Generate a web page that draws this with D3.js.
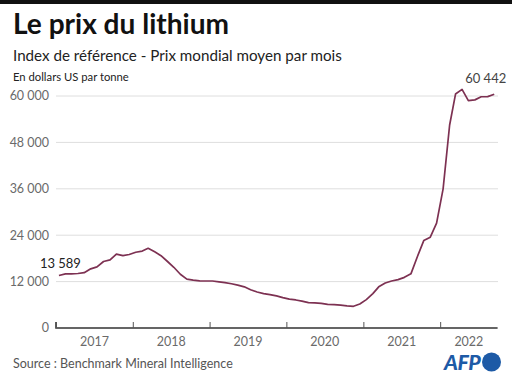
<!DOCTYPE html>
<html><head><meta charset="utf-8">
<script src="https://cdn.jsdelivr.net/npm/d3@7"></script>
<style>
html,body{margin:0;padding:0;background:#fff;}
svg{display:block;}
text{font-family:Lato,"Noto Sans",sans-serif;}
</style></head>
<body>
<script>
// ---- data ----
const startMonth = "2017-01";
const prices = [
  13589, 14000, 14000, 14100, 14300, 15300, 15800, 17200, 17600, 19100, 18700, 19000,
  19600, 19900, 20600, 19700, 18700, 17200, 15700, 13900, 12650, 12400, 12200, 12150,
  12150, 11950, 11750, 11450, 11100, 10650, 9900, 9300, 8900, 8650, 8300, 7850,
  7450, 7250, 6950, 6550, 6480, 6380, 6100, 6050, 5900, 5700, 5610, 6200,
  7350, 8900, 10650, 11650, 12150, 12500, 13100, 14000, 18500, 22600, 23500, 27100,
  36000, 52500, 60500, 61700, 58800, 59000, 59800, 59850, 60442
];
const yTicks = [0, 12000, 24000, 36000, 48000, 60000];
const yearLabels = ["2017", "2018", "2019", "2020", "2021", "2022"];
const title = "Le prix du lithium";
const subtitle = "Index de référence - Prix mondial moyen par mois";
const unit = "En dollars US par tonne";
const source = "Source : Benchmark Mineral Intelligence";

// ---- layout ----
const W = 512, H = 381;
const svg = d3.select("body").append("svg").attr("width", W).attr("height", H);
const fmt = v => d3.format(",")(v).replace(/,/g, "\u202F");

const parse = d3.timeParse("%Y-%m");
const t0 = parse(startMonth);
const dates = prices.map((_, i) => d3.timeDay.offset(d3.timeMonth.offset(t0, i), 14));
const data = prices.map((v, i) => ({date: dates[i], value: v}));
const domEnd = d3.timeMonth.offset(t0, prices.length); // Oct 2022

const x = d3.scaleTime().domain([t0, domEnd]).range([56, 497.6]);
const y = d3.scaleLinear().domain([0, 60000]).range([328, 96]);

// top bar
svg.append("rect").attr("x", 0).attr("y", 0).attr("width", W).attr("height", 4).attr("fill", "#111");

function fitText(sel, target) {
  const n = sel.node();
  const w = n.getComputedTextLength();
  const fs = parseFloat(sel.attr("font-size"));
  sel.attr("font-size", (fs * target / w).toFixed(2));
}
const tt = svg.append("text").attr("x", 13).attr("y", 34).attr("font-size", 26)
  .attr("font-weight", 700).attr("fill", "#111").text(title);
fitText(tt, 216);
const st = svg.append("text").attr("x", 13).attr("y", 61).attr("font-size", 17)
  .attr("fill", "#222").text(subtitle);
fitText(st, 329);
const ut = svg.append("text").attr("x", 13).attr("y", 81).attr("font-size", 13)
  .attr("fill", "#222").text(unit);
fitText(ut, 116);

// grid
const g = svg.append("g");
g.selectAll("line.grid").data(yTicks.filter(d => d > 0)).join("line")
  .attr("class", "grid")
  .attr("x1", 56).attr("x2", 498)
  .attr("y1", d => y(d)).attr("y2", d => y(d))
  .attr("stroke", "#dedede").attr("stroke-width", 1);

// y labels
g.selectAll("text.yl").data(yTicks).join("text")
  .attr("class", "yl")
  .attr("x", 49).attr("y", d => y(d)).attr("dy", "0.35em")
  .attr("text-anchor", "end").attr("font-size", 12.5).attr("fill", "#6a6a6a")
  .text(d => fmt(d));

// x axis
const years = d3.timeYear.range(t0, domEnd);
const xAxis = d3.axisBottom(x).tickValues(years).tickSize(-6).tickFormat("");
const ax = svg.append("g").attr("transform", `translate(0,${y(0)})`).call(xAxis);
ax.select(".domain").attr("stroke", "#333").attr("stroke-width", 1.6).attr("d", `M${x(t0)},-6V0H${x.range()[1]}`);
ax.selectAll(".tick line").attr("stroke", "#555");

// year labels centered in visible part of each year
svg.selectAll("text.xl").data(yearLabels).join("text")
  .attr("class", "xl")
  .attr("x", (d) => {
    const a = new Date(+d, 0, 1), b = d3.min([new Date(+d + 1, 0, 1), domEnd]);
    return (x(a) + x(b)) / 2;
  })
  .attr("y", 346).attr("text-anchor", "middle").attr("font-size", 12.5).attr("fill", "#6a6a6a")
  .text(d => d);

// line
const line = d3.line().x(d => x(d.date)).y(d => y(d.value)).curve(d3.curveLinear);
svg.append("path").datum(data).attr("d", line)
  .attr("fill", "none").attr("stroke", "#7d3152").attr("stroke-width", 1.7)
  .attr("stroke-linejoin", "round");

// annotations
const first = data[0], last = data[data.length - 1];
svg.append("text").attr("x", x(first.date) - 19).attr("y", y(first.value) - 7)
  .attr("font-size", 13).attr("fill", "#222").text(fmt(first.value));
svg.append("text").attr("x", x(last.date) + 12).attr("y", y(last.value) - 11)
  .attr("text-anchor", "end").attr("font-size", 13).attr("fill", "#444").text(fmt(last.value));

// source
svg.append("text").attr("x", 13).attr("y", 368).attr("font-size", 12.5).attr("fill", "#555").text(source);

// AFP logo
const afp = svg.append("text").attr("x", 444).attr("y", 369.5).attr("font-size", 18).attr("font-weight", 900)
  .attr("font-style", "italic").attr("fill", "#1d5aa6").attr("letter-spacing", -0.5).text("AFP");
fitText(afp, 36);
svg.append("circle").attr("cx", 491.5).attr("cy", 362).attr("r", 9.5).attr("fill", "#1d5aa6");
</script>
</body></html>
